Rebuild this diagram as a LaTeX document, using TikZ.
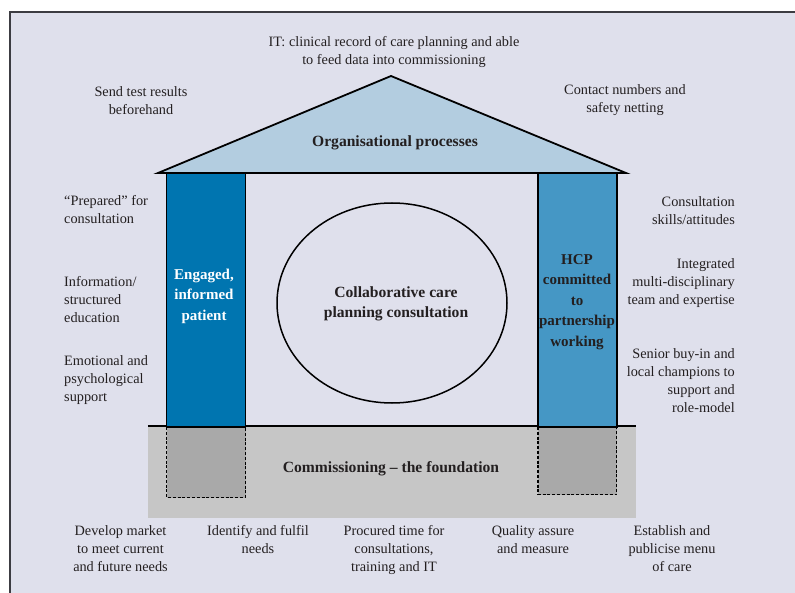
\documentclass[tikz,border=0pt]{standalone}
\usepackage{fontspec}
\setmainfont{Liberation Serif}
\usetikzlibrary{positioning, shapes.geometric}
\definecolor{pagelilac}{RGB}{223,224,236}
\definecolor{framegrey}{RGB}{60,60,66}
\definecolor{roofblue}{RGB}{179,205,224}
\definecolor{patientblue}{RGB}{0,117,176}
\definecolor{hcpblue}{RGB}{69,151,197}
\definecolor{basegrey}{RGB}{198,198,198}
\definecolor{footgrey}{RGB}{169,169,169}
\definecolor{inkdark}{RGB}{35,31,32}

\begin{document}
\begin{tikzpicture}[x=1pt, y=-1pt,
    note/.style={font=\fontsize{14.3}{18}\selectfont, text=inkdark, inner sep=0pt, yshift=-1.5pt},
    heading/.style={font=\fontsize{15.6}{20}\selectfont\bfseries, text=inkdark, inner sep=0pt, align=center},
    pillartext/.style={heading, font=\fontsize{15}{20.5}\selectfont\bfseries},
    outline/.style={draw=black, line width=1.8pt},
    footing/.style={fill=footgrey, line width=1.5pt, dash pattern=on 3pt off 1.8pt},
    pillar/.style={outline, minimum width=79pt, minimum height=254pt, inner sep=0pt}]
    \useasboundingbox (0,0) rectangle (795,593);

    % Frame
    \draw[framegrey, line width=1.6pt, fill=pagelilac] (10,12) rectangle (810,610);

    % Foundation with footings
    \node[fill=basegrey, minimum width=488pt, minimum height=91pt, inner sep=0pt] (base) at (392,472) {};
    \draw[footing] (166.5,427) rectangle (245.5,497.5);
    \draw[footing] (538,427) rectangle (616.5,494.5);
    \draw[outline] (base.north west) -- (base.north east);
    \node[heading] (commissioning) at (391,469) {Commissioning -- the foundation};

    % Pillars
    \node[pillar, fill=patientblue] (patient) at (206,300) {};
    \node[pillartext, text=white] (patienttext) at (204,296) {Engaged,\\informed\\patient};
    \node[pillar, fill=hcpblue] (hcp) at (577.25,300) {};
    \node[pillartext] (hcptext) at (577,302) {HCP\\committed\\to\\partnership\\working};

    % Roof
    \draw[outline, fill=roofblue, line join=miter] (158,173) -- (391,76) -- (626,173) -- cycle;
    \node[heading] (roof) at (395,143) {Organisational processes};

    % Consultation
    \node[draw, ellipse, line width=1.5pt, minimum width=230pt, minimum height=200pt] (consult) at (392,303) {};
    \node[heading] (consulttext) at (396,304) {Collaborative care\\planning consultation};

    % Roof labels
    \node[note, align=center] (itrecord) at (394,50.5) {IT: clinical record of care planning and able\\to feed data into commissioning};
    \node[note, align=center] (results) at (141,99) {Send test results\\beforehand};
    \node[note, align=center] (contact) at (625,99) {Contact numbers and\\safety netting};

    % Patient side
    \node[note, align=left, anchor=west] (prepared) at (64,208.5) {``Prepared'' for\\consultation};
    \node[note, align=left, anchor=west] (education) at (64,298) {Information/\\structured\\education};
    \node[note, align=left, anchor=west] (emotional) at (64,379) {Emotional and\\psychological\\support};

    % HCP side
    \node[note, align=right, anchor=east] (skills) at (735,209) {Consultation\\skills/attitudes};
    \node[note, align=right, anchor=east] (team) at (735,282) {Integrated\\multi-disciplinary\\team and expertise};
    \node[note, align=right, anchor=east] (senior) at (735,379) {Senior buy-in and\\local champions to\\support and\\role-model};

    % Commissioning tasks
    \foreach \x/\name/\txt in {120.5/market/{Develop market\\to meet current\\and future needs},
                               258/needs/{Identify and fulfil\\needs},
                               394/procured/{Procured time for\\consultations,\\training and IT},
                               533/quality/{Quality assure\\and measure},
                               672/menu/{Establish and\\publicise menu\\of care}}
        \node[note, align=center, anchor=north] (\name) at (\x,524) {\txt};
\end{tikzpicture}
\end{document}
